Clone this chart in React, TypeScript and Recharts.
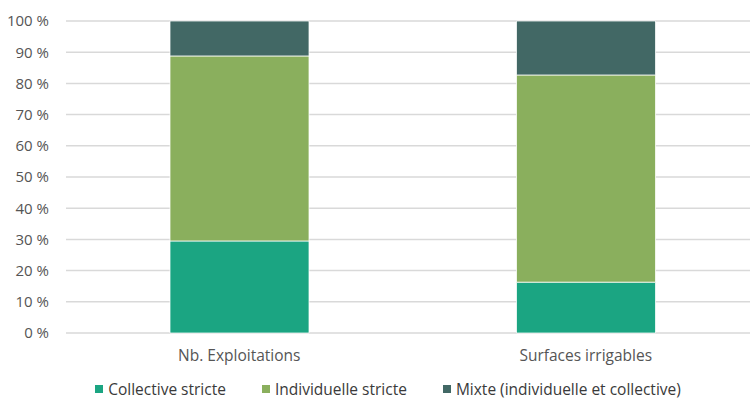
import { BarChart, Bar, XAxis, YAxis, CartesianGrid, Legend } from "recharts";

const categories = ["Nb. Exploitations", "Surfaces irrigables"];
const collective = [29.5, 16.3];
const individuelle = [59.3, 66.4];
const mixte = [11.2, 17.3];
const yTicks = [0, 10, 20, 30, 40, 50, 60, 70, 80, 90, 100];

const SERIES = [
  { key: "collective", name: "Collective stricte", color: "#1BA582" },
  { key: "individuelle", name: "Individuelle stricte", color: "#8AAF5D" },
  { key: "mixte", name: "Mixte (individuelle et collective)", color: "#426865" },
];

const FONT = "'Open Sans', Lato, sans-serif";

const data = categories.map((c, i) => ({
  name: c,
  collective: collective[i],
  individuelle: individuelle[i],
  mixte: mixte[i],
}));

function LegendContent() {
  return (
    <div
      style={{
        display: "flex",
        justifyContent: "center",
        alignItems: "center",
        paddingLeft: 17,
        paddingTop: 15,
        fontFamily: FONT,
        fontSize: 15.5,
        color: "#3a3a3a",
        gap: 36,
      }}
    >
      {SERIES.map((s) => (
        <div key={s.key} style={{ display: "flex", alignItems: "center", gap: 5 }}>
          <span style={{ width: 8, height: 8, background: s.color, display: "inline-block" }} />
          <span>{s.name}</span>
        </div>
      ))}
    </div>
  );
}

export default function App() {
  return (
    <div
      style={{
        position: "fixed",
        left: 0,
        top: 0,
        width: 750,
        height: 399,
        overflow: "hidden",
        background: "#fff",
      }}
    >
      <BarChart
        width={770}
        height={399}
        data={data}
        margin={{ top: 21, right: 11, bottom: 0, left: 0 }}
      >
        <CartesianGrid vertical={false} stroke="#d9d9d9" strokeWidth={1.5} />
        <XAxis
          dataKey="name"
          axisLine={false}
          tickLine={false}
          height={30}
          tickMargin={11}
          tick={{ fontFamily: FONT, fontSize: 15.5, fill: "#555" }}
        />
        <YAxis
          domain={[0, 100]}
          ticks={yTicks}
          width={66}
          axisLine={false}
          tickLine={false}
          tickMargin={11}
          tickFormatter={(v: number) => `${v} %`}
          tick={{ fontFamily: FONT, fontSize: 15, fill: "#555" }}
        />
        <Legend verticalAlign="bottom" height={36} content={() => <LegendContent />} />
        {SERIES.map((s) => (
          <Bar
            key={s.key}
            dataKey={s.key}
            name={s.name}
            stackId="a"
            fill={s.color}
            stroke="#fff"
            strokeWidth={0.75}
            barSize={139}
            isAnimationActive={false}
          />
        ))}
      </BarChart>
    </div>
  );
}
